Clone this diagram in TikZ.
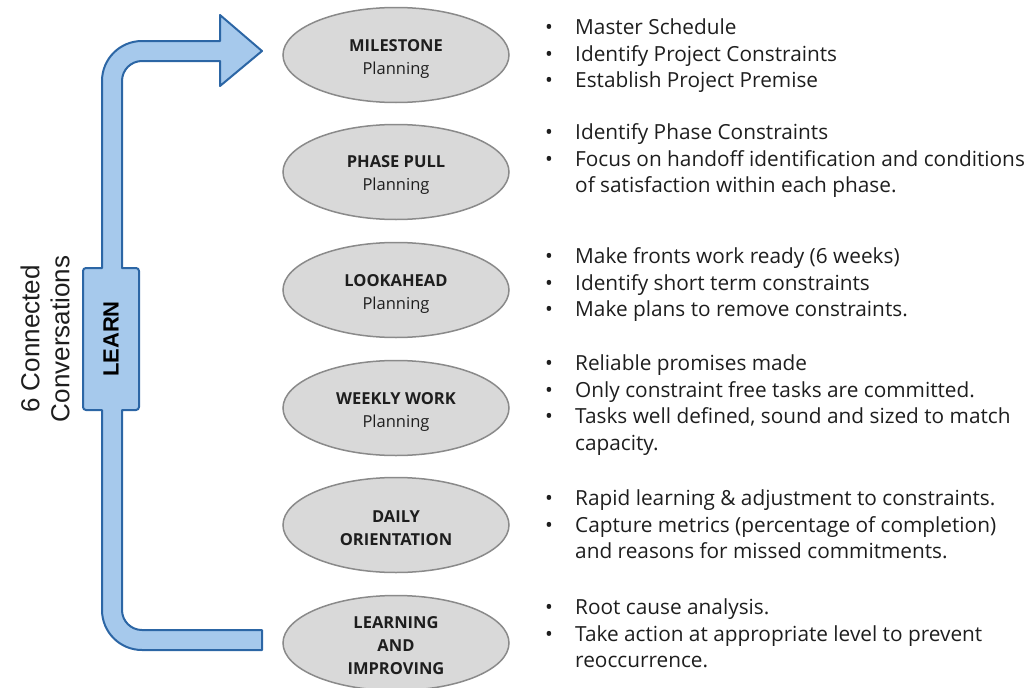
\documentclass[tikz,border=0pt]{standalone}
\usepackage{fontspec}
\setmainfont{Open Sans}
\newfontfamily\arialfont{Liberation Sans}
\usetikzlibrary{shapes.geometric}

\definecolor{arrowfill}{HTML}{A6C9EC}
\definecolor{arrowline}{HTML}{2C66A5}
\definecolor{ovalfill}{HTML}{D9D9D9}
\definecolor{ovalline}{HTML}{8A8A8A}
\definecolor{ink}{HTML}{1E1E1E}

% bullet followed by a fixed indent
\newcommand{\bul}{\makebox[30pt][l]{\textbullet}}

\begin{document}
\begin{tikzpicture}[x=1pt,y=-1pt,
  oval/.style={ellipse, draw=ovalline, line width=1.5pt, fill=ovalfill,
    minimum width=226pt, minimum height=95pt, inner sep=0pt},
  ovaltext/.style={inner sep=0pt, align=center,
    font=\fontsize{16.5}{23}\selectfont, text=ink},
  notes/.style={anchor=base west, inner sep=0pt,
    font=\fontsize{20.8}{26.7}\selectfont, text=ink},
  loopband/.style={draw=arrowline, fill=arrowfill, line width=2pt, line join=round}]

\useasboundingbox (0,0) rectangle (1028,688);

% feedback band: from the last conversation back up to the first
\draw[loopband]
  (262,51) -- (220,86) -- (220,61) -- (142,61)
  .. controls (130.95,61) and (122,69.95) .. (122,81)
  -- (122,268) -- (136,268)
  .. controls (137.66,268) and (139,269.34) .. (139,271)
  -- (139,407)
  .. controls (139,408.66) and (137.66,410) .. (136,410)
  -- (122,410) -- (122,610)
  .. controls (122,621.05) and (130.95,630) .. (142,630)
  -- (262,630) -- (262,650) -- (142,650)
  .. controls (119.91,650) and (102,632.09) .. (102,610)
  -- (102,410) -- (86,410)
  .. controls (84.34,410) and (83,408.66) .. (83,407)
  -- (83,271)
  .. controls (83,269.34) and (84.34,268) .. (86,268)
  -- (102,268) -- (102,81)
  .. controls (102,58.91) and (119.91,41) .. (142,41)
  -- (220,41) -- (220,15) -- cycle;

\node[rotate=90, font=\arialfont\bfseries\fontsize{22}{26}\selectfont, text=black]
  (learn) at (111,339) {LEARN};

\node[rotate=90, align=center, font=\arialfont\fontsize{26}{30}\selectfont, text=ink]
  (title) at (45,339) {6 Connected\\Conversations};

% the six conversations
\node[oval] (milestone) at (396,55)  {};
\node[oval] (phase)     at (396,172) {};
\node[oval] (lookahead) at (396,290) {};
\node[oval] (weekly)    at (396,408) {};
\node[oval] (daily)     at (396,525) {};
\node[oval] (improve)   at (396,643) {};
\node[ovaltext] (milestone-t) at ([yshift=-3.5pt]milestone.center) {\textbf{MILESTONE}\\Planning};
\node[ovaltext] (phase-t)     at ([yshift=-3.5pt]phase.center)     {\textbf{PHASE PULL}\\Planning};
\node[ovaltext] (lookahead-t) at ([yshift=-3.5pt]lookahead.center) {\textbf{LOOKAHEAD}\\Planning};
\node[ovaltext] (weekly-t)    at ([yshift=-3.5pt]weekly.center)    {\textbf{WEEKLY WORK}\\Planning};
\node[ovaltext] (daily-t)     at ([yshift=-3.5pt]daily.center)     {\textbf{DAILY}\\\textbf{ORIENTATION}};
\node[ovaltext] (improve-t)   at ([yshift=-3pt]improve.center)     {\textbf{LEARNING}\\\textbf{AND}\\\textbf{IMPROVING}};

% notes beside each conversation
\node[notes] (n1) at (545,34.5) {\begin{tabular}[t]{@{}l@{}l@{}}
  \bul & Master Schedule\\
  \bul & Identify Project Constraints\\
  \bul & Establish Project Premise
\end{tabular}};
\node[notes] (n2) at (545,139.5) {\begin{tabular}[t]{@{}l@{}l@{}}
  \bul & Identify Phase Constraints\\
  \bul & Focus on handoff identification and conditions\\
       & of satisfaction within each phase.
\end{tabular}};
\node[notes] (n3) at (545,263.5) {\begin{tabular}[t]{@{}l@{}l@{}}
  \bul & Make fronts work ready (6 weeks)\\
  \bul & Identify short term constraints\\
  \bul & Make plans to remove constraints.
\end{tabular}};
\node[notes] (n4) at (545,370.5) {\begin{tabular}[t]{@{}l@{}l@{}}
  \bul & Reliable promises made\\
  \bul & Only constraint free tasks are committed.\\
  \bul & Tasks well defined, sound and sized to match\\
       & capacity.
\end{tabular}};
\node[notes] (n5) at (545,505.5) {\begin{tabular}[t]{@{}l@{}l@{}}
  \bul & Rapid learning \& adjustment to constraints.\\
  \bul & Capture metrics (percentage of completion)\\
       & and reasons for missed commitments.
\end{tabular}};
\node[notes] (n6) at (545,614.5) {\begin{tabular}[t]{@{}l@{}l@{}}
  \bul & Root cause analysis.\\
  \bul & Take action at appropriate level to prevent\\
       & reoccurrence.
\end{tabular}};

\end{tikzpicture}
\end{document}
